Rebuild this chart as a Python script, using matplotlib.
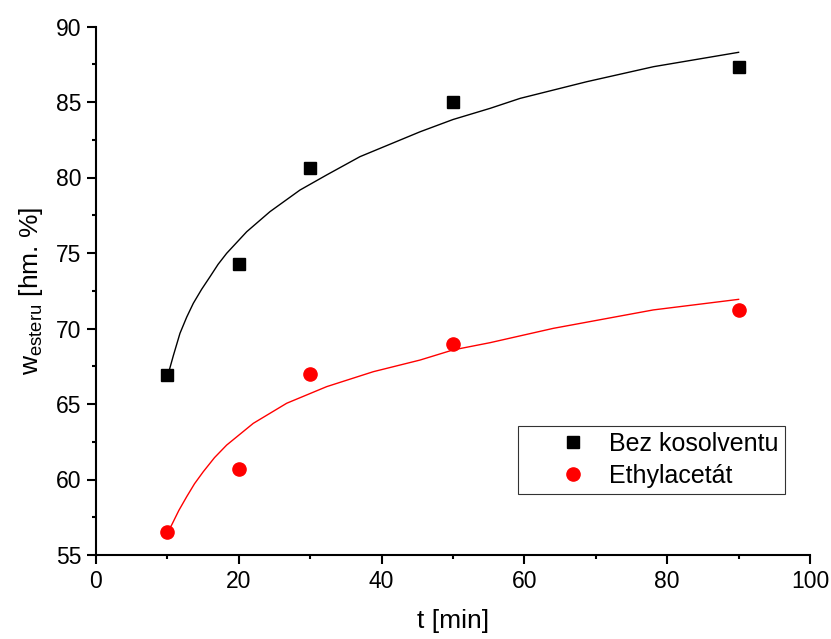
import matplotlib
matplotlib.use("Agg")
import matplotlib.pyplot as plt
from matplotlib.ticker import MultipleLocator

plt.rcParams["font.family"] = ["Liberation Sans", "DejaVu Sans"]
plt.rcParams["mathtext.default"] = "regular"

# measured points
t_min = [10, 20, 30, 50, 90]
w_bez = [66.9, 74.3, 80.6, 85.0, 87.3]
w_ethyl = [56.5, 60.7, 67.0, 69.0, 71.2]

# fitted curves
fit_bez_t = [10.0, 10.27, 10.83, 11.76, 12.70, 13.63, 14.8, 15.97, 17.1, 18.30, 21.11,
             24.37, 28.57, 32.31, 36.97, 45.4, 50.0, 55.2, 59.4, 68.7, 78.1, 90.0]
fit_bez_w = [66.8, 67.25, 68.2, 69.68, 70.75, 71.67, 72.6, 73.43, 74.25, 74.98, 76.41,
             77.74, 79.17, 80.17, 81.38, 83.03, 83.84, 84.58, 85.24, 86.34, 87.34, 88.29]
fit_ethyl_t = [10.0, 10.6, 11.6, 12.70, 13.8, 15.03, 16.6, 18.30, 22.03, 26.71, 32.31,
               38.84, 45.38, 50.0, 55.18, 64.05, 78.05, 90.0]
fit_ethyl_w = [56.5, 56.99, 57.95, 58.86, 59.72, 60.52, 61.45, 62.28, 63.72, 65.05, 66.15,
               67.14, 67.91, 68.58, 69.06, 70.01, 71.23, 71.93]

fig = plt.figure(figsize=(8.31, 6.39), dpi=100)
ax = fig.add_axes([96 / 831, 1 - 555 / 639, 714 / 831, 528.5 / 639])

ax.plot(fit_bez_t, fit_bez_w, color="black", lw=1.0, solid_joinstyle="round")
ax.plot(fit_ethyl_t, fit_ethyl_w, color="red", lw=1.0, solid_joinstyle="round")
ax.plot(t_min, w_bez, "s", color="black", ms=8.5, label="Bez kosolventu")
ax.plot(t_min, w_ethyl, "o", color="red", ms=9.5, label="Ethylacetát")

ax.set_xlim(0, 100)
ax.set_ylim(55, 90)
ax.xaxis.set_major_locator(MultipleLocator(20))
ax.xaxis.set_minor_locator(MultipleLocator(10))
ax.yaxis.set_major_locator(MultipleLocator(5))
ax.yaxis.set_minor_locator(MultipleLocator(2.5))

for side in ("top", "right"):
    ax.spines[side].set_visible(False)
for side in ("left", "bottom"):
    ax.spines[side].set_linewidth(1.5)
ax.tick_params(which="major", direction="out", length=6.5, width=1.5, pad=4, labelsize=16.5)
ax.tick_params(which="minor", direction="out", length=3, width=1.5)

ax.set_xlabel("t [min]", fontsize=19, labelpad=12)
ax.set_ylabel("w$_{esteru}$ [hm. %]", fontsize=19, labelpad=8)

leg = ax.legend(loc="upper left", bbox_to_anchor=(0.5915, 0.2447), borderaxespad=0,
                fontsize=18, frameon=True, fancybox=False, handletextpad=-0.51,
                handlelength=3.9, borderpad=0.25, labelspacing=0.32)
leg.get_frame().set_edgecolor("black")
leg.get_frame().set_linewidth(0.8)

fig.savefig("out.png", dpi=100)
